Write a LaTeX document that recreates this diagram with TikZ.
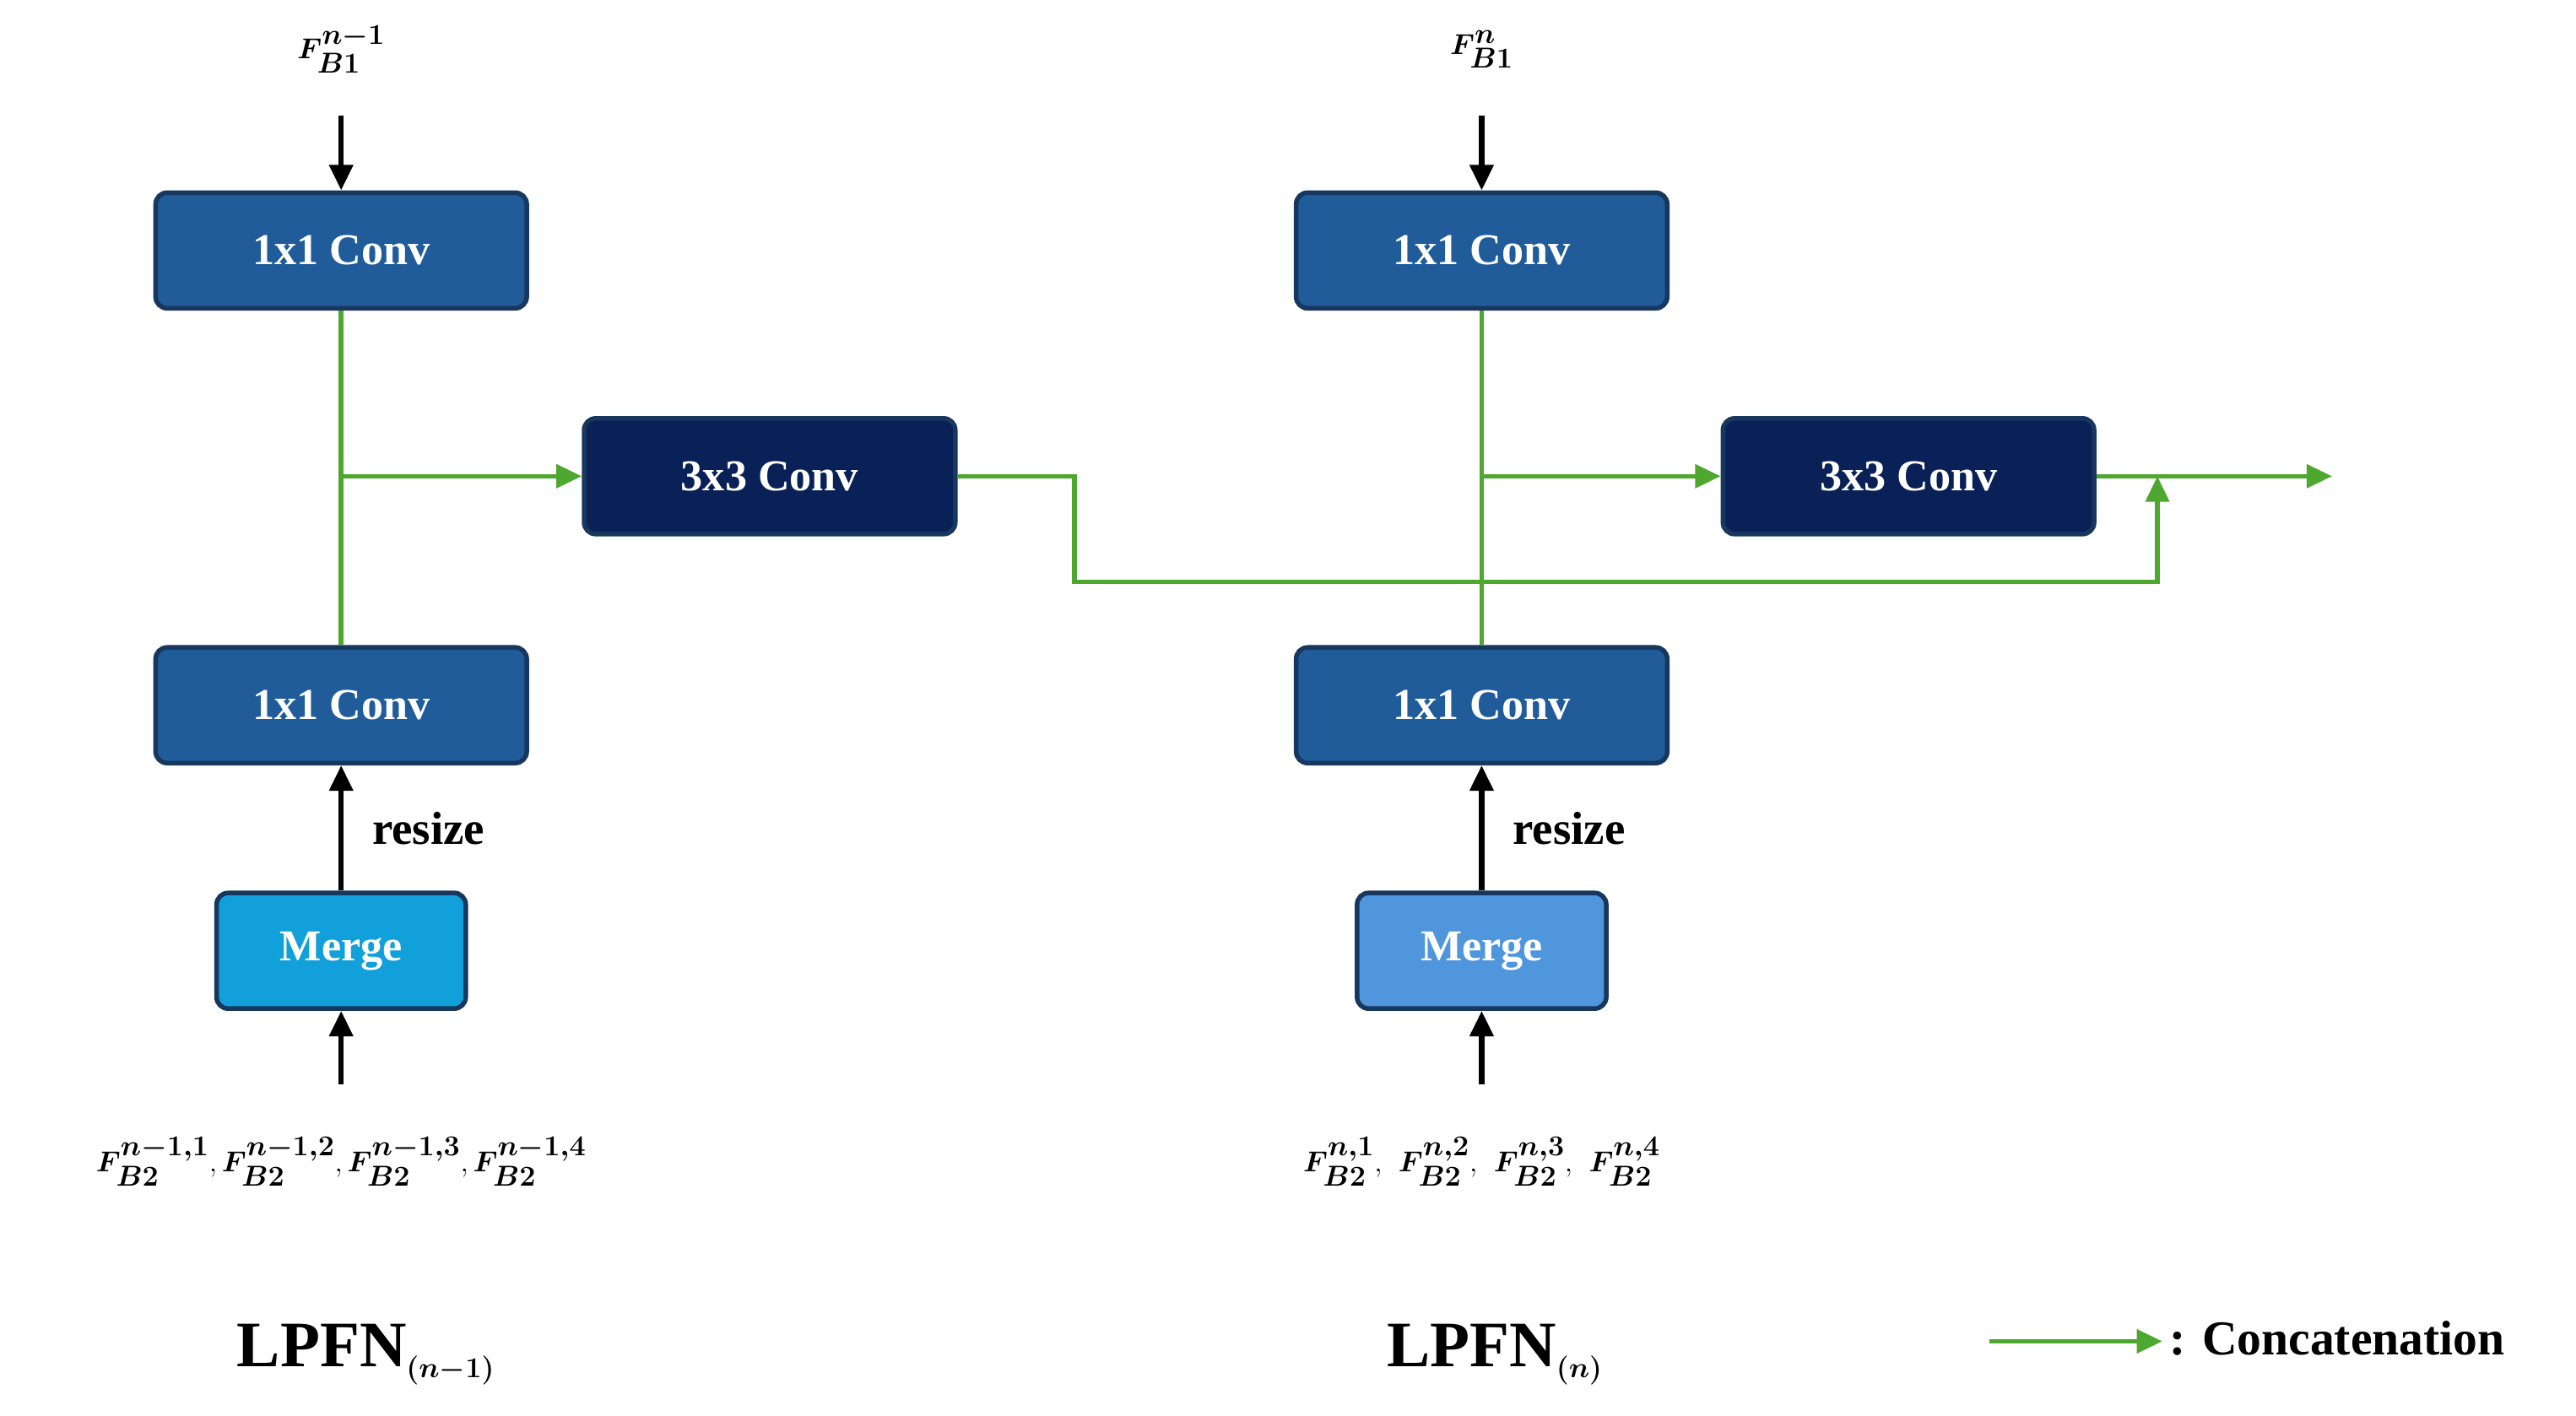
\documentclass[tikz,border=0pt]{standalone}
\usepackage{amsmath,bm}
\usepackage{fontspec}
\setmainfont{Liberation Serif}
\usetikzlibrary{arrows.meta}
\definecolor{bmid}{HTML}{1F5C99}
\definecolor{bdark}{HTML}{0A2158}
\definecolor{bedge}{HTML}{17375E}
\definecolor{mergeA}{HTML}{12A0DA}
\definecolor{mergeB}{HTML}{5096DC}
\definecolor{gr}{HTML}{4EA72E}
\begin{document}
\begin{tikzpicture}[x=0.05cm,y=-0.05cm,
 box/.style={draw=bedge,line width=4pt,rounded corners=10pt,minimum width=228*0.05cm-4pt,minimum height=73*0.05cm-4pt,text=white,font=\fontsize{38}{44}\selectfont\bfseries},
 mbox/.style={box,minimum width=154*0.05cm-4pt},
 ga/.style={draw=gr,line width=4pt,-{Triangle[length=22pt,width=20pt]}},
 gl/.style={draw=gr,line width=4pt},
 ba/.style={draw=black,line width=4.5pt,-{Triangle[length=22pt,width=20pt]}},
 lab/.style={font=\fontsize{40}{46}\selectfont\bfseries}]
\useasboundingbox (0,0) rectangle (1563,859);
% left
\node[box,fill=bmid] (t1) at (207,152) {1x1 Conv};
\node[box,fill=bdark] (c1) at (467,289) {3x3 Conv};
\node[box,fill=bmid] (b1) at (207,428) {1x1 Conv};
\node[mbox,fill=mergeA] (m1) at (207,577) {Merge};
\node[lab] (f1) at (207,30) {$\bm{F_{B1}^{n-1}}$};
\node[lab] (g1) at (207,705) {$\bm{F_{B2}^{n-1,1}},\bm{F_{B2}^{n-1,2}},\bm{F_{B2}^{n-1,3}},\bm{F_{B2}^{n-1,4}}$};
\node[lab] at (260,503) {resize};
\node[font=\fontsize{56}{60}\selectfont\bfseries] at (222,822) {LPFN$_{\bm{(n-1)}}$};
% right
\node[box,fill=bmid] (t2) at (899,152) {1x1 Conv};
\node[box,fill=bdark] (c2) at (1158,289) {3x3 Conv};
\node[box,fill=bmid] (b2) at (899,428) {1x1 Conv};
\node[mbox,fill=mergeB] (m2) at (899,577) {Merge};
\node[lab] (f2) at (899,30) {$\bm{F_{B1}^{n}}$};
\node[lab] (g2) at (899,705) {$\bm{F_{B2}^{n,1}},\ \bm{F_{B2}^{n,2}},\ \bm{F_{B2}^{n,3}},\ \bm{F_{B2}^{n,4}}$};
\node[lab] at (952,503) {resize};
\node[font=\fontsize{56}{60}\selectfont\bfseries] at (907,822) {LPFN$_{\bm{(n)}}$};
% black arrows
\coordinate (a1) at (207,70); \coordinate (a2) at (899,70);
\coordinate (d1) at (207,658); \coordinate (d2) at (899,658);
\draw[ba] (a1) -- (t1.north);
\draw[ba] (a2) -- (t2.north);
\draw[ba] (d1) -- (m1.south);
\draw[ba] (d2) -- (m2.south);
\draw[ba] (m1.north) -- (b1.south);
\draw[ba] (m2.north) -- (b2.south);
% green
\coordinate (j1) at (207,289); \coordinate (j2) at (899,289);
\coordinate (cat) at (1309,289); \coordinate (out) at (1415,289);
\draw[gl] (t1.south) -- (b1.north);
\draw[ga] (j1) -- (c1.west);
\draw[gl] (t2.south) -- (b2.north);
\draw[ga] (j2) -- (c2.west);
\draw[ga] (c1.east) -- (652,289) -- (652,353) -- (1309,353) -- (cat);
\draw[ga] (c2.east) -- (out);
% legend
\coordinate (l1) at (1207,814); \coordinate (l2) at (1312,814);
\draw[ga] (l1) -- (l2);
\node[font=\fontsize{42}{46}\selectfont\bfseries,anchor=west] at (1314,812) {: Concatenation};
\end{tikzpicture}
\end{document}
